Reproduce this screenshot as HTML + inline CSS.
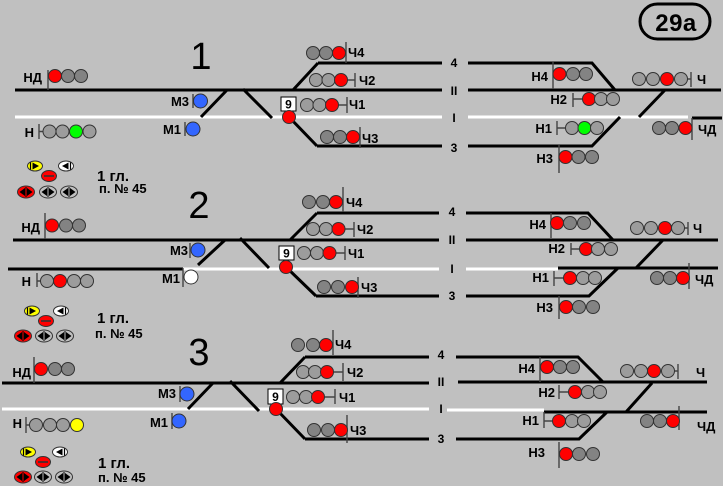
<!DOCTYPE html>
<html><head><meta charset="utf-8">
<style>
html,body{margin:0;padding:0;background:#c0c0c0;width:723px;height:486px;overflow:hidden}
svg{display:block}
.l{font-family:"Liberation Sans",Arial,sans-serif;font-weight:bold;font-size:13px;fill:#000}
.t{font-family:"Liberation Sans",Arial,sans-serif;font-weight:bold;font-size:12px;fill:#000;text-anchor:middle}
.n{font-family:"Liberation Sans",Arial,sans-serif;font-size:38px;fill:#000;text-anchor:middle}
.g1{font-family:"Liberation Sans",Arial,sans-serif;font-weight:bold;font-size:15px;fill:#000}
.g2{font-family:"Liberation Sans",Arial,sans-serif;font-weight:bold;font-size:13px;fill:#000}
.e{text-anchor:end}
circle{stroke:#333;stroke-width:1}
.m{stroke:#444;stroke-width:1.4;fill:none}
</style></head><body>
<svg width="723" height="486" viewBox="0 0 723 486" xmlns="http://www.w3.org/2000/svg">
<defs>
<g id="oy"><ellipse rx="7.5" ry="5" fill="#ffff00" stroke="#333" stroke-width="1"/><path d="M-2.5,-3.5 L4,0 L-2.5,3.5 Z" fill="#000"/><path d="M-4.5,-3.5 V3.5" stroke="#000" stroke-width="1.2"/></g>
<g id="ow"><ellipse rx="7.5" ry="5" fill="#fff" stroke="#333" stroke-width="1"/><path d="M2.5,-3.5 L-4,0 L2.5,3.5 Z" fill="#000"/><path d="M4.5,-3.5 V3.5" stroke="#000" stroke-width="1.2"/></g>
<g id="or"><ellipse rx="7.5" ry="5.5" fill="#ff0000" stroke="#333" stroke-width="1"/><path d="M-5,0 H5" stroke="#333" stroke-width="1.6"/></g>
<g id="obr"><ellipse rx="8.5" ry="6" fill="#ff0000" stroke="#333" stroke-width="1"/><path d="M-6.5,0 L-1,-4 L-1,4 Z M6.5,0 L1,-4 L1,4 Z" fill="#000"/><path d="M0,-5 V5" stroke="#000" stroke-width="1"/></g>
<g id="obg"><ellipse rx="8.5" ry="6" fill="#c0c0c0" stroke="#333" stroke-width="1"/><path d="M-6.5,0 L-1,-4 L-1,4 Z M6.5,0 L1,-4 L1,4 Z" fill="#000"/><path d="M0,-5 V5" stroke="#000" stroke-width="1"/></g>
</defs>

<!-- 29a -->
<rect x="640" y="4" width="70" height="35" rx="17.5" ry="17.5" fill="none" stroke="#000" stroke-width="3"/>
<text x="676" y="31" style="font-family:'Liberation Sans',Arial,sans-serif;font-weight:bold;font-size:24px;text-anchor:middle;letter-spacing:0.5px">29a</text>

<!-- ================= PANEL 1 ================= -->
<text class="n" x="201" y="69">1</text>
<path d="M15 117H442 M468 117H688" stroke="#fff" stroke-width="3" fill="none"/>
<path d="M15 90H442 M468 90H721 M318 63H442 M468 63H592 L615 90 M317 146H442 M468 146H592 L620 117 M293 90L318 63 M289 117L317 146 M227 90L201 117 M243 89L272 118 M639 117L665 90 M692 118H722" stroke="#000" stroke-width="3" fill="none"/>
<text class="t" x="454" y="67">4</text><text class="t" x="454" y="95">II</text><text class="t" x="454" y="122">I</text><text class="t" x="454" y="152">3</text>

<path class="m" d="M48 70V90 M39 124V139 M39 131.5H43 M193 94V108 M185 122V136 M346 42V63 M347.5 80H355 M355 73V87 M338.5 105H347 M347 97V113 M360 127V148 M553 62V89 M573 93V107 M573 99H583 M557 121V135 M557 128H566 M559 145V173 M687.5 79H691 M691 72V87 M692 118V140"/>
<text class="l e" x="42" y="82">НД</text>
<circle cx="55" cy="76" r="6.5" fill="#ff0000"/><circle cx="68" cy="76" r="6.5" fill="#838383"/><circle cx="81" cy="76" r="6.5" fill="#838383"/>
<text class="l e" x="34" y="137">Н</text>
<circle cx="49.5" cy="131.5" r="6.5" fill="#9c9c9c"/><circle cx="62.5" cy="131.5" r="6.5" fill="#9c9c9c"/><circle cx="76" cy="131.5" r="6.5" fill="#00ff00"/><circle cx="89.5" cy="131.5" r="6.5" fill="#9c9c9c"/>
<text class="l e" x="189" y="106">М3</text><circle cx="200.5" cy="101" r="7" fill="#3366ff"/>
<text class="l e" x="181" y="134">М1</text><circle cx="193" cy="129" r="7" fill="#3366ff"/>
<circle cx="313" cy="53" r="6.5" fill="#838383"/><circle cx="326" cy="53" r="6.5" fill="#838383"/><circle cx="339" cy="53" r="6.5" fill="#ff0000"/><text class="l" x="348" y="57">Ч4</text>
<circle cx="316" cy="80" r="6.5" fill="#9c9c9c"/><circle cx="328.5" cy="80" r="6.5" fill="#9c9c9c"/><circle cx="341" cy="80" r="6.5" fill="#ff0000"/><text class="l" x="359" y="85">Ч2</text>
<rect x="281" y="97" width="15" height="14" fill="#fff" stroke="#000" stroke-width="1"/><text class="t" x="288.5" y="108.5">9</text>
<circle cx="307" cy="105" r="6.5" fill="#9c9c9c"/><circle cx="319.5" cy="105" r="6.5" fill="#9c9c9c"/><circle cx="332" cy="105" r="6.5" fill="#ff0000"/><text class="l" x="349" y="109">Ч1</text>
<circle cx="289" cy="117" r="6.5" fill="#ff0000"/>
<circle cx="327" cy="137" r="6.5" fill="#838383"/><circle cx="340" cy="137" r="6.5" fill="#838383"/><circle cx="353" cy="137" r="6.5" fill="#ff0000"/><text class="l" x="362" y="143">Ч3</text>
<text class="l e" x="548" y="81">Н4</text>
<circle cx="559.5" cy="74" r="6.5" fill="#ff0000"/><circle cx="573" cy="74" r="6.5" fill="#838383"/><circle cx="586" cy="74" r="6.5" fill="#838383"/>
<text class="l e" x="567" y="104">Н2</text>
<circle cx="589" cy="99" r="6.5" fill="#ff0000"/><circle cx="601" cy="99" r="6.5" fill="#9c9c9c"/><circle cx="613" cy="99" r="6.5" fill="#9c9c9c"/>
<text class="l e" x="552" y="133">Н1</text>
<circle cx="572" cy="128" r="6.5" fill="#9c9c9c"/><circle cx="584.5" cy="128" r="6.5" fill="#00ff00"/><circle cx="597" cy="128" r="6.5" fill="#9c9c9c"/>
<text class="l e" x="553" y="163">Н3</text>
<circle cx="565.5" cy="157" r="6.5" fill="#ff0000"/><circle cx="578.5" cy="157" r="6.5" fill="#838383"/><circle cx="592" cy="157" r="6.5" fill="#838383"/>
<circle cx="639" cy="79" r="6.5" fill="#9c9c9c"/><circle cx="653" cy="79" r="6.5" fill="#9c9c9c"/><circle cx="667" cy="79" r="6.5" fill="#ff0000"/><circle cx="681" cy="79" r="6.5" fill="#9c9c9c"/><text class="l" x="697" y="84">Ч</text>
<circle cx="659" cy="128" r="6.5" fill="#838383"/><circle cx="672" cy="128" r="6.5" fill="#838383"/><circle cx="685.5" cy="128" r="6.5" fill="#ff0000"/><text class="l" x="698" y="134">ЧД</text>

<use href="#oy" x="35" y="166"/><use href="#ow" x="66" y="166"/><use href="#or" x="49" y="176"/>
<use href="#obr" x="26" y="192"/><use href="#obg" x="48" y="192"/><use href="#obg" x="69" y="192"/>
<text class="g1" x="97" y="181">1 гл.</text><text class="g2" x="99" y="193">п. № 45</text>

<!-- ================= PANEL 2 ================= -->
<text class="n" x="199" y="218">2</text>
<path d="M183 269H439 M466 269H558" stroke="#fff" stroke-width="3" fill="none"/>
<path d="M13 240H439 M466 240H718 M8 269H183 M317 213H439 M290 240L317 213 M466 213H588 L613 240 M316 296H439 M286 267L316 296 M466 296H589 L618 268 M558 268H718 M198 265L225 240 M240 238L269 268 M636 268L663 240" stroke="#000" stroke-width="3" fill="none"/>
<text class="t" x="452" y="216">4</text><text class="t" x="452" y="244">II</text><text class="t" x="452" y="273">I</text><text class="t" x="452" y="300">3</text>

<path class="m" d="M45 213V239 M37 273V287 M37 281H40.5 M190 243V258 M183 268V287 M343 187V212 M345 229H354 M354 222V237 M336 253H345 M345 246V260 M358 277V298 M551 213V238 M571 243V255 M571 249H579.5 M554 271V286 M554 278H563.5 M559 296V319 M684.5 228H688 M688 222V235 M689 263V289"/>
<text class="l e" x="40" y="232">НД</text>
<circle cx="52" cy="225.5" r="6.5" fill="#ff0000"/><circle cx="66" cy="225.5" r="6.5" fill="#838383"/><circle cx="79" cy="225.5" r="6.5" fill="#838383"/>
<text class="l e" x="31" y="286">Н</text>
<circle cx="47" cy="281" r="6.5" fill="#9c9c9c"/><circle cx="60" cy="281" r="6.5" fill="#ff0000"/><circle cx="74" cy="281" r="6.5" fill="#9c9c9c"/><circle cx="87" cy="281" r="6.5" fill="#9c9c9c"/>
<text class="l e" x="188" y="255">М3</text><circle cx="198" cy="250" r="7" fill="#3366ff"/>
<text class="l e" x="180" y="283">М1</text><circle cx="191" cy="277" r="7" fill="#ffffff"/>
<circle cx="309" cy="202" r="6.5" fill="#838383"/><circle cx="323" cy="202" r="6.5" fill="#838383"/><circle cx="336" cy="202" r="6.5" fill="#ff0000"/><text class="l" x="346" y="207">Ч4</text>
<circle cx="313" cy="229" r="6.5" fill="#9c9c9c"/><circle cx="326" cy="229" r="6.5" fill="#9c9c9c"/><circle cx="338.5" cy="229" r="6.5" fill="#ff0000"/><text class="l" x="357" y="234">Ч2</text>
<rect x="279" y="246" width="15" height="14" fill="#fff" stroke="#000" stroke-width="1"/><text class="t" x="286.5" y="257.5">9</text>
<circle cx="304" cy="253" r="6.5" fill="#9c9c9c"/><circle cx="317" cy="253" r="6.5" fill="#9c9c9c"/><circle cx="329.5" cy="253" r="6.5" fill="#ff0000"/><text class="l" x="348" y="258">Ч1</text>
<circle cx="286" cy="267" r="6.5" fill="#ff0000"/>
<circle cx="324" cy="287" r="6.5" fill="#838383"/><circle cx="338" cy="287" r="6.5" fill="#838383"/><circle cx="352" cy="287" r="6.5" fill="#ff0000"/><text class="l" x="361" y="292">Ч3</text>
<text class="l e" x="546" y="229">Н4</text>
<circle cx="557" cy="223" r="6.5" fill="#ff0000"/><circle cx="570" cy="223" r="6.5" fill="#838383"/><circle cx="584" cy="223" r="6.5" fill="#838383"/>
<text class="l e" x="565" y="253">Н2</text>
<circle cx="586" cy="249" r="6.5" fill="#ff0000"/><circle cx="598" cy="249" r="6.5" fill="#9c9c9c"/><circle cx="611" cy="249" r="6.5" fill="#9c9c9c"/>
<text class="l e" x="549" y="282">Н1</text>
<circle cx="570" cy="278" r="6.5" fill="#ff0000"/><circle cx="583" cy="278" r="6.5" fill="#9c9c9c"/><circle cx="595" cy="278" r="6.5" fill="#9c9c9c"/>
<text class="l e" x="553" y="312">Н3</text>
<circle cx="566" cy="307" r="6.5" fill="#ff0000"/><circle cx="579" cy="307" r="6.5" fill="#838383"/><circle cx="593" cy="307" r="6.5" fill="#838383"/>
<circle cx="637" cy="228" r="6.5" fill="#9c9c9c"/><circle cx="651" cy="228" r="6.5" fill="#9c9c9c"/><circle cx="665" cy="228" r="6.5" fill="#ff0000"/><circle cx="678" cy="228" r="6.5" fill="#9c9c9c"/><text class="l" x="693" y="233">Ч</text>
<circle cx="657" cy="278" r="6.5" fill="#838383"/><circle cx="670" cy="278" r="6.5" fill="#838383"/><circle cx="683" cy="278" r="6.5" fill="#ff0000"/><text class="l" x="695" y="284">ЧД</text>

<use href="#oy" x="32" y="311"/><use href="#ow" x="61" y="311"/><use href="#or" x="46" y="321"/>
<use href="#obr" x="23" y="336"/><use href="#obg" x="44" y="336"/><use href="#obg" x="65" y="336"/>
<text class="g1" x="97" y="323">1 гл.</text><text class="g2" x="95" y="338">п. № 45</text>

<!-- ================= PANEL 3 ================= -->
<text class="n" x="199" y="365">3</text>
<path d="M2 409H429 M447 410H544" stroke="#fff" stroke-width="3" fill="none"/>
<path d="M2 383H429 M458 382H707 M305 357H429 M280 383L305 357 M456 357H578 L603 382 M305 439H429 M276 409L305 439 M456 439H579 L607 412 M544 412H707 M188 409L213 383 M230 381L259 411 M626 412L652 383" stroke="#000" stroke-width="3" fill="none"/>
<text class="t" x="441" y="359">4</text><text class="t" x="441" y="386">II</text><text class="t" x="441" y="413">I</text><text class="t" x="441" y="443">3</text>

<path class="m" d="M34 357V383 M26 417V433 M26 425H29.5 M180 386V402 M172 413V429 M333 330V355 M333.5 372H343 M343 363V381 M324.5 397H335 M335 389V404 M347 415V443 M540 357V382 M559 385V399 M559 392H568.5 M544 412V428 M544 421H552.5 M559 442V468 M674.5 371H678 M678 364V379 M679 406V430"/>
<text class="l e" x="31" y="377">НД</text>
<circle cx="41" cy="369" r="6.5" fill="#ff0000"/><circle cx="55" cy="369" r="6.5" fill="#838383"/><circle cx="68" cy="369" r="6.5" fill="#838383"/>
<text class="l e" x="22" y="428">Н</text>
<circle cx="36" cy="425" r="6.5" fill="#9c9c9c"/><circle cx="50" cy="425" r="6.5" fill="#9c9c9c"/><circle cx="63" cy="425" r="6.5" fill="#9c9c9c"/><circle cx="77" cy="425" r="6.5" fill="#ffff00"/>
<text class="l e" x="176" y="398">М3</text><circle cx="187" cy="394" r="7" fill="#3366ff"/>
<text class="l e" x="168" y="427">М1</text><circle cx="179" cy="421" r="7" fill="#3366ff"/>
<circle cx="298" cy="345" r="6.5" fill="#838383"/><circle cx="313" cy="345" r="6.5" fill="#838383"/><circle cx="326" cy="345" r="6.5" fill="#ff0000"/><text class="l" x="335" y="349">Ч4</text>
<circle cx="303" cy="372" r="6.5" fill="#9c9c9c"/><circle cx="315" cy="372" r="6.5" fill="#9c9c9c"/><circle cx="327" cy="372" r="6.5" fill="#ff0000"/><text class="l" x="347" y="377">Ч2</text>
<rect x="268" y="389" width="15" height="15" fill="#fff" stroke="#000" stroke-width="1"/><text class="t" x="275.5" y="401">9</text>
<circle cx="293" cy="397" r="6.5" fill="#9c9c9c"/><circle cx="306" cy="397" r="6.5" fill="#9c9c9c"/><circle cx="318" cy="397" r="6.5" fill="#ff0000"/><text class="l" x="339" y="402">Ч1</text>
<circle cx="276" cy="409" r="6.5" fill="#ff0000"/>
<circle cx="314" cy="430" r="6.5" fill="#838383"/><circle cx="328" cy="430" r="6.5" fill="#838383"/><circle cx="341" cy="430" r="6.5" fill="#ff0000"/><text class="l" x="350" y="435">Ч3</text>
<text class="l e" x="535" y="373">Н4</text>
<circle cx="547" cy="367" r="6.5" fill="#ff0000"/><circle cx="560" cy="367" r="6.5" fill="#838383"/><circle cx="573" cy="367" r="6.5" fill="#838383"/>
<text class="l e" x="555" y="397">Н2</text>
<circle cx="575" cy="392" r="6.5" fill="#ff0000"/><circle cx="588" cy="392" r="6.5" fill="#9c9c9c"/><circle cx="600" cy="392" r="6.5" fill="#9c9c9c"/>
<text class="l e" x="539" y="425">Н1</text>
<circle cx="559" cy="421" r="6.5" fill="#ff0000"/><circle cx="572" cy="421" r="6.5" fill="#9c9c9c"/><circle cx="584" cy="421" r="6.5" fill="#9c9c9c"/>
<text class="l e" x="545" y="457">Н3</text>
<circle cx="566" cy="454" r="6.5" fill="#ff0000"/><circle cx="579" cy="454" r="6.5" fill="#838383"/><circle cx="593" cy="454" r="6.5" fill="#838383"/>
<circle cx="627" cy="371" r="6.5" fill="#9c9c9c"/><circle cx="641" cy="371" r="6.5" fill="#9c9c9c"/><circle cx="654" cy="371" r="6.5" fill="#ff0000"/><circle cx="668" cy="371" r="6.5" fill="#9c9c9c"/><text class="l" x="696" y="377">Ч</text>
<circle cx="647" cy="421" r="6.5" fill="#838383"/><circle cx="660" cy="421" r="6.5" fill="#838383"/><circle cx="673" cy="421" r="6.5" fill="#ff0000"/><text class="l" x="697" y="431">ЧД</text>

<use href="#oy" x="28" y="452"/><use href="#ow" x="60" y="452"/><use href="#or" x="43" y="462"/>
<use href="#obr" x="23" y="477"/><use href="#obg" x="43" y="477"/><use href="#obg" x="64" y="477"/>
<text class="g1" x="98" y="468">1 гл.</text><text class="g2" x="98" y="482">п. № 45</text>
</svg>
</body></html>
